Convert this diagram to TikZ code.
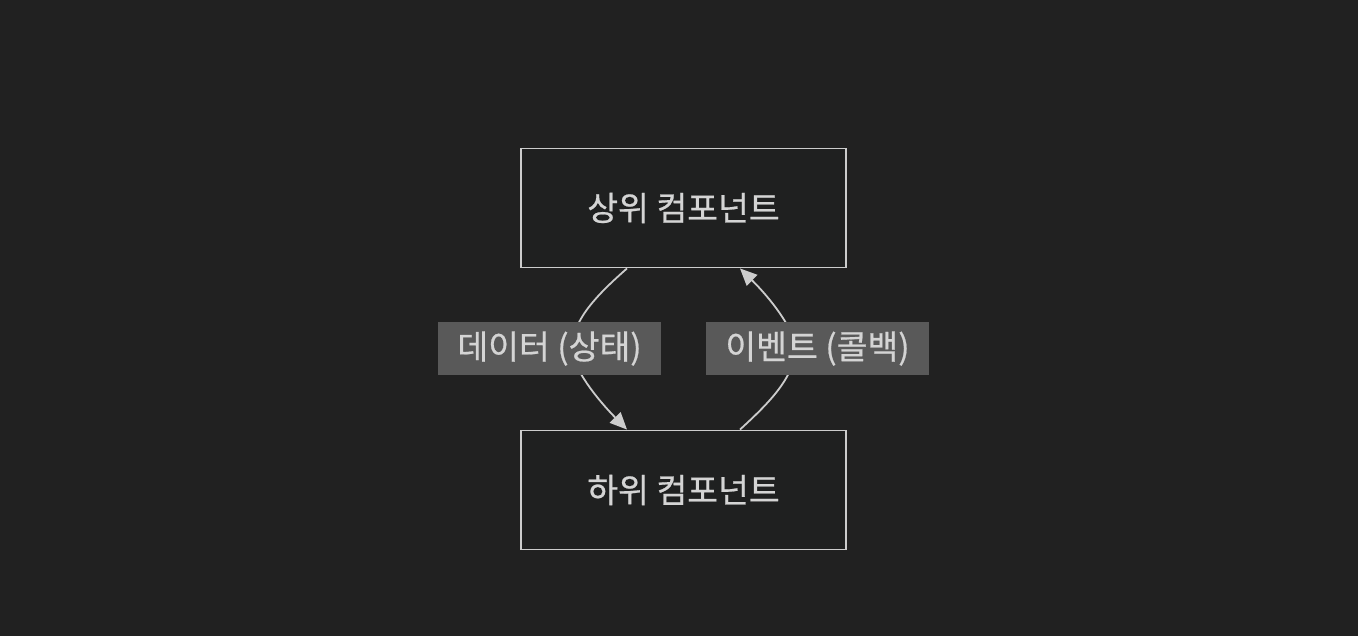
\documentclass[tikz,border=0pt]{standalone}
\usepackage{fontspec}
\setmainfont{Noto Sans CJK KR}[BoldFont={Noto Sans CJK KR},BoldFeatures={FakeBold=0.6}]
\usetikzlibrary{arrows.meta}
\definecolor{bgc}{HTML}{212121}
\definecolor{boxfill}{HTML}{1F2020}
\definecolor{boxline}{HTML}{CCCCCC}
\definecolor{labfill}{HTML}{595959}
\definecolor{txt}{HTML}{D4D4D4}
\definecolor{edgec}{HTML}{CCCCCC}
\tikzset{
  compbox/.style={draw=boxline, fill=boxfill, line width=1.9pt, minimum width=325pt, minimum height=119pt, inner sep=0pt, text=txt, font=\fontsize{33.5}{40}\selectfont\bfseries},
  edgelab/.style={fill=labfill, minimum width=223pt, minimum height=53pt, inner sep=0pt, text=txt, font=\fontsize{33.5}{40}\selectfont\bfseries},
  flow/.style={draw=edgec, line width=1.8pt, -{Triangle[length=17pt,width=15pt]}}
}
\begin{document}
\begin{tikzpicture}[x=1pt,y=-1pt]
\fill[bgc] (0,0) rectangle (1358,636);
\useasboundingbox (0,0) rectangle (1358,636);
\node[compbox] (top) at (683.5,208) {상위 컴포넌트};
\node[compbox] (bot) at (683.5,490) {하위 컴포넌트};
\path (549.5,348.5) node[edgelab] (lab1) {};
\path (817.5,348.5) node[edgelab] (lab2) {};
\draw[flow] ([xshift=-56.5pt]top.south) .. controls (598,294) and (572,320) .. (572,348.5) .. controls (572,368) and (598,400) .. ([xshift=-56.5pt]bot.north);
\draw[flow] ([xshift=56.5pt]bot.north) .. controls (769,403) and (795,377) .. (795,348.5) .. controls (795,329) and (769,297) .. ([xshift=56.5pt]top.south);
\node[edgelab] at (lab1) {데이터 (상태)};
\node[edgelab] at (lab2) {이벤트 (콜백)};
\end{tikzpicture}
\end{document}
